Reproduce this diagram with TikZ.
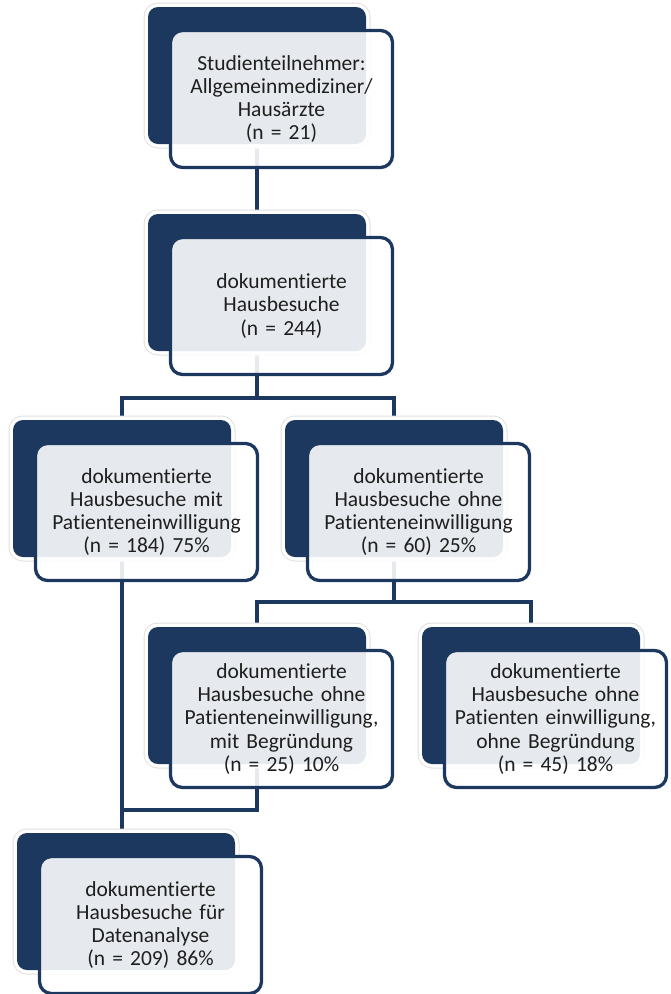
\documentclass[tikz,border=0pt]{standalone}
\usepackage{fontspec}
\setmainfont{Carlito}[Ligatures=NoCommon]
\usepackage{xcolor}
\usetikzlibrary{backgrounds}

\definecolor{hbblue}{RGB}{28,56,94}

\tikzset{
  back/.style={rectangle,rounded corners=10pt,fill=hbblue,inner sep=0pt,
    minimum width=218pt,minimum height=137pt,
    preaction={draw=black!12,line width=9pt},
    preaction={draw=white,line width=7pt}},
  front/.style={rectangle,rounded corners=12pt,draw=hbblue,line width=3.3pt,
    fill=white,fill opacity=0.89,text opacity=1,inner sep=4pt,
    minimum width=222pt,minimum height=137pt,text width=212pt,align=center,
    font=\fontsize{21.5}{23.3}\selectfont,text=black!88},
  link/.style={draw=hbblue,line width=3.3pt}
}

\begin{document}
\begin{tikzpicture}[x=1pt,y=-1pt]
            \useasboundingbox (0,0) rectangle (671,994);

            \node (a) at (257,75.5) [back] {};
            \node (b) at (257,282.5) [back] {};
            \node (c) at (122,488.5) [back] {};
            \node (d) at (394,488.5) [back] {};
            \node (e) at (257,695.5) [back] {};
            \node (f) at (531,695.5) [back] {};
            \node (g) at (126,901.5) [back] {};

            \node (ta) at (281.5,99) [front] {Studienteilnehmer:\\ Allgemeinmediziner/\\ Hausärzte\\ (n = 21)};
            \node (tb) at (281.5,306) [front] {dokumentierte\\ Hausbesuche\\ (n = 244)};
            \node (tc) at (146.5,512) [front] {dokumentierte\\ Hausbesuche mit\\ Patienteneinwilligung\\ (n = 184) 75\%};
            \node (td) at (418.5,512) [front] {dokumentierte\\ Hausbesuche ohne\\ Patienteneinwilligung\\ (n = 60) 25\%};
            \node (te) at (281.5,719) [front] {dokumentierte\\ Hausbesuche ohne\\ Patienteneinwilligung,\\ mit Begründung\\ (n = 25) 10\%};
            \node (tf) at (555.5,719) [front] {dokumentierte\\ Hausbesuche ohne\\ Patienten einwilligung,\\ ohne Begründung\\ (n = 45) 18\%};
            \node (tg) at (150.5,925) [front] {dokumentierte\\ Hausbesuche für\\ Datenanalyse\\ (n = 209) 86\%};

            \coordinate (j1) at (257,398);
            \coordinate (j2) at (394,602);
            \coordinate (j3) at (122,810);

            \begin{scope}[on background layer]
            \draw[link] (a.south) -- (b.north)
            (b.south) -- (j1) -| (c.north) (j1) -| (d.north)
            (d.south) -- (j2) -| (e.north) (j2) -| (f.north)
            (c.south) -- (c.south |- g.north) (e.south) |- (j3);
            \end{scope}

        \end{tikzpicture}
\end{document}
